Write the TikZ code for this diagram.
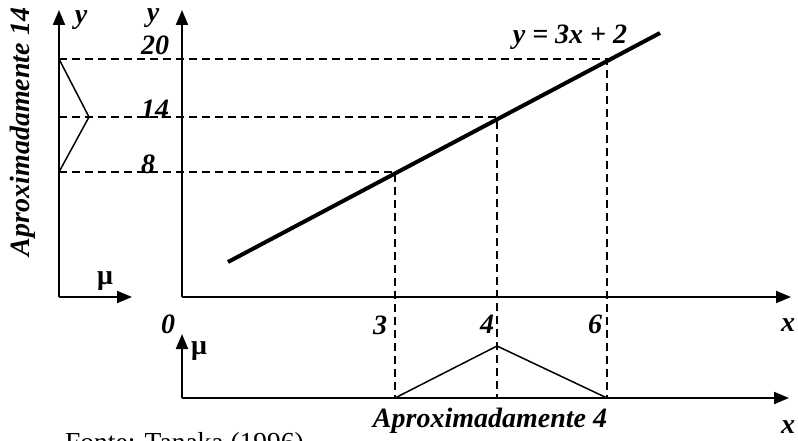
\documentclass[tikz,border=0pt]{standalone}
\usepackage{fontspec}
\setmainfont{Liberation Serif}
\usetikzlibrary{arrows.meta}
\begin{document}
\begin{tikzpicture}[x=1pt,y=-1pt,
  axis/.style={line width=2pt,-{Triangle[length=15pt,width=12pt]}},
  guide/.style={line width=1.5pt,dash pattern=on 8pt off 5pt},
  memb/.style={line width=1.5pt},
  graphline/.style={line width=4pt},
  lbl/.style={inner sep=0pt,font=\fontsize{28}{32}\selectfont\bfseries\itshape},
  mulbl/.style={inner sep=0pt,font=\fontsize{28}{32}\selectfont\bfseries}]
\useasboundingbox (0,0) rectangle (798,441);
% key points
\coordinate (lo) at (59,297);
\coordinate (ltop) at (59,10);
\coordinate (lright) at (132,297);
\coordinate (mo) at (182,297);
\coordinate (mtop) at (182,10);
\coordinate (mright) at (791,297);
\coordinate (bo) at (182,398);
\coordinate (btop) at (182,334);
\coordinate (bright) at (789,398);
\coordinate (y20) at (59,59);
\coordinate (y14) at (59,117);
\coordinate (y8) at (59,172);
\coordinate (lpeak) at (89,117);
\coordinate (p3) at (395,172);
\coordinate (p4) at (497,117);
\coordinate (p6) at (607,59);
\coordinate (b3) at (395,398);
\coordinate (b4) at (497,398);
\coordinate (b6) at (607,398);
\coordinate (bpeak) at (497,346);
\coordinate (ls) at (228,262);
\coordinate (le) at (660,33);
% axes
\draw[axis] (lo) -- (ltop);
\draw[axis] (lo) -- (lright);
\draw[axis] (mo) -- (mtop);
\draw[axis] (mo) -- (mright);
\draw[axis] (bo) -- (btop);
\draw[axis] (bo) -- (bright);
% guides
\draw[guide] (y20) -- (p6) -- (b6);
\draw[guide] (y14) -- (p4) -- (b4);
\draw[guide] (y8) -- (p3) -- (b3);
% membership functions
\draw[memb] (y20) -- (lpeak) -- (y8);
\draw[memb] (b3) -- (bpeak) -- (b6);
% graph line
\draw[graphline] (ls) -- (le);
% labels
\node[lbl,rotate=90] (ap14) at (23,132) {Aproximadamente 14};
\node[lbl] (yl) at (81,20) {y};
\node[lbl] (ym) at (153,18) {y};
\node[lbl] (t20) at (155,45) {20};
\node[lbl] (t14) at (155,109) {14};
\node[lbl] (t8) at (148,164) {8};
\node[mulbl] (mul) at (105,281) {μ};
\node[mulbl] (mub) at (199,351) {μ};
\node[lbl] (t0) at (168,324) {0};
\node[lbl] (t3) at (380,325) {3};
\node[lbl] (t4) at (487,324) {4};
\node[lbl] (t6) at (595,324) {6};
\node[lbl] (xt) at (788,325) {x};
\node[lbl] (xb) at (788,427) {x};
\node[lbl] (ap4) at (490,421) {Aproximadamente 4};
\node[lbl] (eq) at (570,37) {y = 3x + 2};
\node[inner sep=0pt,anchor=base west,font=\fontsize{27.5}{32}\selectfont] (fonte) at (65,451) {Fonte: Tanaka (1996)};
\end{tikzpicture}
\end{document}
